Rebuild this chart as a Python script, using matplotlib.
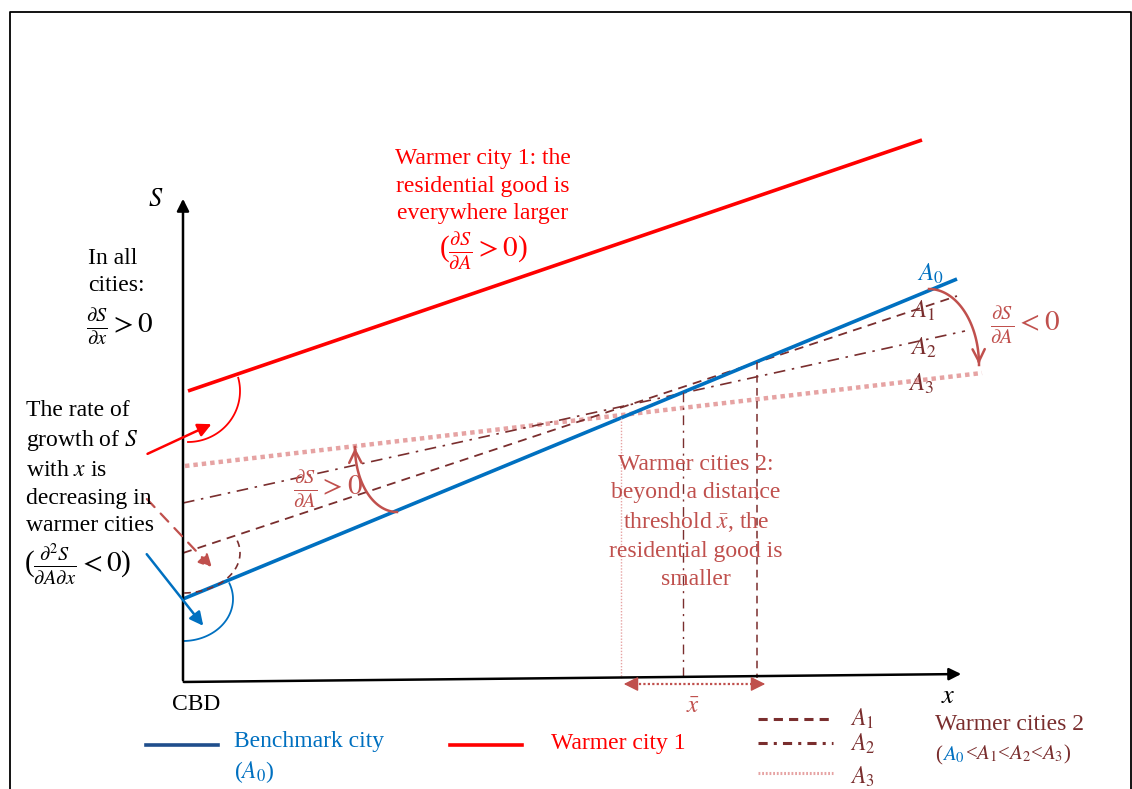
import matplotlib.pyplot as plt
import numpy as np

plt.rcParams['font.family'] = ['Liberation Serif', 'DejaVu Serif']
plt.rcParams['mathtext.fontset'] = 'stix'

# line end points of the sketch (pixel-like units, y grows downwards)
benchmark_x = [183, 957]
benchmark_y = [599, 279]
warm1_x = [188, 922]
warm1_y = [391, 140]
a1_x = [183, 957]
a1_y = [553, 296]
a2_x = [183, 965]
a2_y = [503, 331]
a3_x = [185, 982]
a3_y = [466, 373]
xbar_cross = [621, 683, 757]   # where A3, A2, A1 cross the benchmark
axis_y0 = 681

blue = '#0070C0'
red = '#FF0000'
brown = '#7A2E2E'
pink = '#C0504D'
light = '#E6A3A3'


def line_y(xs, ys, x):
    return ys[0] + (ys[1] - ys[0]) * (x - xs[0]) / (xs[1] - xs[0])


def arc(cx, cy, rx, ry, t0, t1, n=60):
    t = np.radians(np.linspace(t0, t1, n))
    return cx + rx * np.cos(t), cy - ry * np.sin(t)


fig = plt.figure(figsize=(11.32, 7.89), dpi=100)
ax = fig.add_axes([0, 0, 1, 1])
ax.set_xlim(0, 1132)
ax.set_ylim(789, 0)
ax.axis('off')

# frame
ax.plot([10, 10, 1131, 1131], [800, 12, 12, 800], color='black', lw=1.3)

# axes of the diagram
ax.annotate('', xy=(183, 196), xytext=(183, 683),
            arrowprops=dict(arrowstyle='-|>', color='black', lw=1.8, mutation_scale=18))
ax.annotate('', xy=(964, 674), xytext=(181, 682),
            arrowprops=dict(arrowstyle='-|>', color='black', lw=1.8, mutation_scale=18))

# main lines
ax.plot(warm1_x, warm1_y, color=red, lw=2.6, solid_capstyle='butt')
ax.plot(a3_x, a3_y, color=light, lw=3.2, ls=(0, (1, 0.9)))
ax.plot(a2_x, a2_y, color=brown, lw=1.2, ls=(0, (7, 4, 1.5, 4)))
ax.plot(a1_x, a1_y, color=brown, lw=1.3, ls=(0, (5, 3.5)))
ax.plot(benchmark_x, benchmark_y, color=blue, lw=2.6, solid_capstyle='butt')

# vertical drops at crossings
styles = [(light, (0, (1, 1.2)), 1.0), (brown, (0, (7, 4, 1.5, 4)), 1.0), (brown, (0, (5, 3.5)), 1.1)]
for xc, (c, ls, lw) in zip(xbar_cross, styles):
    yc = line_y(benchmark_x, benchmark_y, xc)
    ax.plot([xc, xc], [yc, axis_y0 - 3], color=c, ls=ls, lw=lw)

# x-bar distance arrow
ax.plot([630, 758], [684, 684], color=pink, lw=1.6, ls=(0, (1, 1)))
ax.annotate('', xy=(621, 684), xytext=(640, 684),
            arrowprops=dict(arrowstyle='-|>', color=pink, lw=1, mutation_scale=22))
ax.annotate('', xy=(768, 684), xytext=(749, 684),
            arrowprops=dict(arrowstyle='-|>', color=pink, lw=1, mutation_scale=22))
ax.text(693, 707, r'$\bar{x}$', color=pink, fontsize=18, ha='center', va='center')

# angle arcs at the CBD
x, y = arc(188, 391, 52, 51, 15, -90)
ax.plot(x, y, color=red, lw=1.3)
x, y = arc(183, 599, 50, 42, 22, -90)
ax.plot(x, y, color=blue, lw=1.3)
x, y = arc(183, 553, 57, 40, 18, -90)
ax.plot(x, y, color=brown, lw=1.2, ls=(0, (4, 3)))

# arrows from the left paragraph
ax.annotate('', xy=(214, 423), xytext=(145, 455),
            arrowprops=dict(arrowstyle='-|>', color=red, lw=1.8, mutation_scale=20))
ax.annotate('', xy=(214, 570), xytext=(145, 497),
            arrowprops=dict(arrowstyle='-|>', color=pink, lw=1.6, ls=(0, (5, 4)), mutation_scale=20))
ax.annotate('', xy=(205, 628), xytext=(145, 552),
            arrowprops=dict(arrowstyle='-|>', color=blue, lw=1.8, mutation_scale=20))

# curved arrows dS/dA
x, y = arc(397, 447, 42, 65, -90, -180)
ax.plot(x, y, color=pink, lw=1.8)
ax.annotate('', xy=(x[-1], y[-1] - 2), xytext=(x[-4], y[-4]),
            arrowprops=dict(arrowstyle='->', color=pink, lw=1.8, mutation_scale=22))
x, y = arc(929, 365, 50, 76, 90, 0)
ax.plot(x, y, color=pink, lw=1.8)
ax.annotate('', xy=(x[-1], y[-1] + 2), xytext=(x[-4], y[-4]),
            arrowprops=dict(arrowstyle='->', color=pink, lw=1.8, mutation_scale=22))

fs = 17
ls_ = 1.42
ffs = 21   # fraction size
# axis labels
ax.text(156, 200, '$S$', fontsize=19, ha='center', va='center')
ax.text(948, 697, '$x$', fontsize=19, ha='center', va='center')
ax.text(196, 705, 'CBD', fontsize=fs, ha='center', va='center')

# left annotations
ax.text(88, 272, 'In all\ncities:', fontsize=fs, ha='left', va='center', linespacing=ls_)
ax.text(86, 327, r'$\frac{\partial S}{\partial x} > 0$', fontsize=ffs, ha='left', va='center')
ax.text(26, 468, 'The rate of\ngrowth of $S$\nwith $x$ is\ndecreasing in\nwarmer cities',
        fontsize=fs, ha='left', va='center', linespacing=ls_)
ax.text(24, 564, r'($\frac{\partial^2 S}{\partial A \partial x} < 0$)', fontsize=ffs,
        ha='left', va='center')

# warmer city 1
ax.text(483, 186, 'Warmer city 1: the\nresidential good is\neverywhere larger',
        color=red, fontsize=fs, ha='center', va='center', linespacing=ls_)
ax.text(483, 251, r'($\frac{\partial S}{\partial A} > 0$)', color=red, fontsize=ffs,
        ha='center', va='center')

# warmer cities 2
ax.text(696, 522, 'Warmer cities 2:\nbeyond a distance\nthreshold $\\bar{x}$, the\nresidential good is\nsmaller',
        color=pink, fontsize=fs, ha='center', va='center', linespacing=ls_)
ax.text(293, 489, r'$\frac{\partial S}{\partial A} > 0$', color=pink, fontsize=ffs,
        ha='left', va='center')
ax.text(990, 325, r'$\frac{\partial S}{\partial A} < 0$', color=pink, fontsize=ffs,
        ha='left', va='center')

# line labels
ax.text(930, 274, '$A_0$', color=blue, fontsize=18, ha='center', va='center')
ax.text(923, 311, '$A_1$', color=brown, fontsize=18, ha='center', va='center')
ax.text(923, 348, '$A_2$', color=brown, fontsize=18, ha='center', va='center')
ax.text(921, 384, '$A_3$', color=brown, fontsize=18, ha='center', va='center')

# legend
ax.plot([146, 218], [745, 745], color='#1F4E8C', lw=2.6)
ax.text(234, 742, 'Benchmark city', color=blue, fontsize=fs, ha='left', va='center')
ax.text(234, 772, '($A_0$)', color=blue, fontsize=fs, ha='left', va='center')
ax.plot([450, 522], [745, 745], color=red, lw=2.6)
ax.text(551, 743, 'Warmer city 1', color=red, fontsize=fs, ha='left', va='center')
ax.plot([758, 833], [719, 719], color=brown, lw=2.2, ls=(0, (3, 2)))
ax.plot([758, 833], [743, 743], color=brown, lw=2.2, ls=(0, (3, 2, 1, 2)))
ax.plot([758, 833], [773, 773], color=light, lw=2.2, ls=(0, (0.6, 0.6)))
ax.text(850, 719, '$A_1$', color=brown, fontsize=fs, ha='left', va='center')
ax.text(850, 744, '$A_2$', color=brown, fontsize=fs, ha='left', va='center')
ax.text(850, 777, '$A_3$', color=brown, fontsize=fs, ha='left', va='center')
ax.text(935, 725, 'Warmer cities 2', color=brown, fontsize=fs, ha='left', va='center')
t = ax.text(935, 756, '(', color=brown, fontsize=15, ha='left', va='center')
t = ax.annotate('$A_0$', xy=(1, 0), xycoords=t, color=blue, fontsize=15, va='bottom')
ax.annotate('<$A_1$<$A_2$<$A_3$)', xy=(1, 0), xycoords=t, color=brown, fontsize=15,
            va='bottom')

plt.savefig('out.png', dpi=100)
